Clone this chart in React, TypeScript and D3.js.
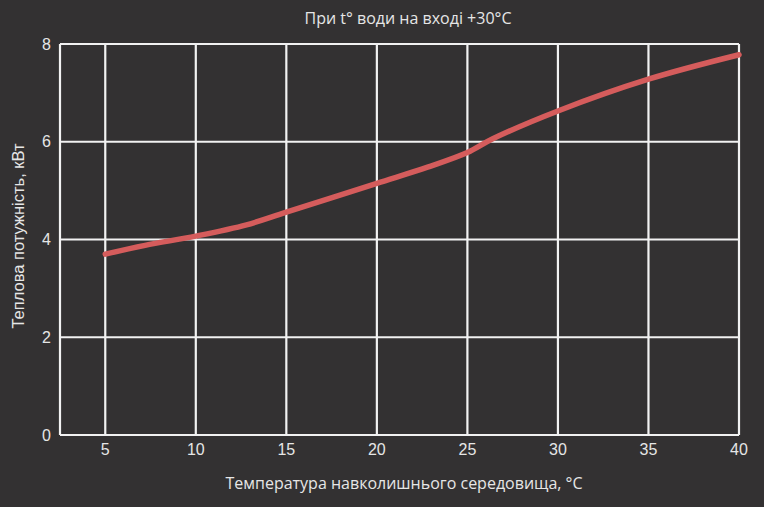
import React from "react";
import * as d3 from "d3";

const title = "При t° води на вході +30°C";
const xTitle = "Температура навколишнього середовища, °C";
const yTitle = "Теплова потужність, кВт";

const xTicks = [5, 10, 15, 20, 25, 30, 35, 40];
const yTicks = [0, 2, 4, 6, 8];

const tempX = [5, 7.2, 10, 12.8, 15, 20, 22.8, 25, 26.4, 30, 35, 40];
const powerY = [3.7, 3.88, 4.07, 4.3, 4.56, 5.15, 5.48, 5.78, 6.06, 6.63, 7.28, 7.78];

const W = 764;
const H = 507;
const BG = "#333132";
const GRID = "#f2f2f2";
const TXT = "#e6e6e6";
const LINE = "#d55c5c";

export default function App() {
  const x = d3.scaleLinear().domain([2.5, 40]).range([60, 739]);
  const y = d3.scaleLinear().domain([0, 8]).range([435, 44]);
  const pts = tempX.map((t, i) => [t, powerY[i]] as [number, number]);
  const line = d3
    .line<[number, number]>()
    .x((d) => x(d[0]))
    .y((d) => y(d[1]))
    .curve(d3.curveCatmullRom.alpha(0.5));

  return (
    <svg
      width={W}
      height={H}
      style={{ position: "absolute", left: 0, top: 0, display: "block" }}
    >
      <rect x={0} y={0} width={W} height={H} fill={BG} />
      <text
        x={408}
        y={24}
        textAnchor="middle"
        fill={TXT}
        fontFamily="'Open Sans', sans-serif"
        fontSize={16}
      >
        {title}
      </text>
      {/* grid */}
      {yTicks.map((v) => (
        <line key={"h" + v} x1={x(2.5)} x2={x(40)} y1={y(v)} y2={y(v)} stroke={GRID} strokeWidth={2.2} />
      ))}
      <line x1={x(2.5)} x2={x(2.5)} y1={y(8)} y2={y(0)} stroke={GRID} strokeWidth={2.2} />
      {xTicks.map((v) => (
        <line key={"v" + v} x1={x(v)} x2={x(v)} y1={y(8)} y2={y(0)} stroke={GRID} strokeWidth={2.2} />
      ))}
      {/* tick labels */}
      {yTicks.map((v) => (
        <text
          key={"yl" + v}
          x={51}
          y={y(v)}
          dy="0.35em"
          textAnchor="end"
          fill={TXT}
          fontFamily="'Liberation Sans', Arial, sans-serif"
          fontSize={16}
        >
          {v}
        </text>
      ))}
      {xTicks.map((v) => (
        <text
          key={"xl" + v}
          x={x(v)}
          y={455}
          textAnchor="middle"
          fill={TXT}
          fontFamily="'Liberation Sans', Arial, sans-serif"
          fontSize={16}
        >
          {v}
        </text>
      ))}
      {/* curve */}
      <path d={line(pts) || ""} fill="none" stroke={LINE} strokeWidth={5.5} strokeLinecap="round" strokeLinejoin="round" />
      {/* axis titles */}
      <text
        x={404}
        y={489}
        textAnchor="middle"
        fill={TXT}
        fontFamily="'Open Sans', sans-serif"
        fontSize={16}
      >
        {xTitle}
      </text>
      <text
        transform={`translate(24, 236) rotate(-90)`}
        textAnchor="middle"
        fill={TXT}
        fontFamily="'Liberation Sans', Arial, sans-serif"
        fontSize={16.5}
      >
        {yTitle}
      </text>
    </svg>
  );
}
